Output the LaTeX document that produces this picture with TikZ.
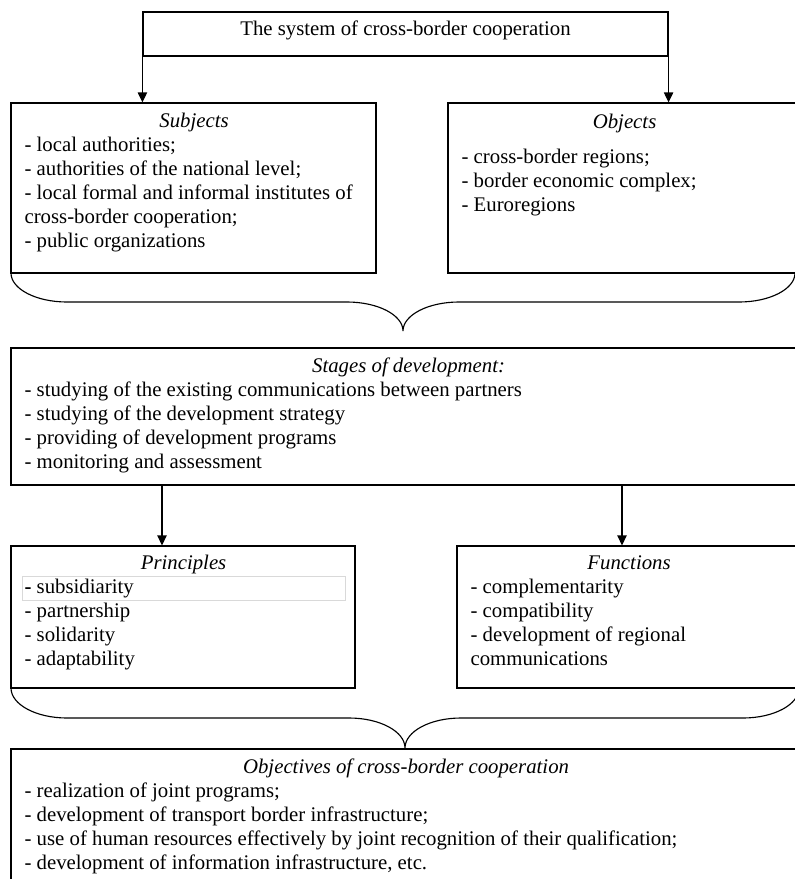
\documentclass[tikz,border=0pt]{standalone}
\usepackage{fontspec}
\setmainfont{Liberation Serif}
\usetikzlibrary{arrows.meta,fit}
\newcommand\boxtitle[1]{{\centering\itshape\strut #1\par}}

\begin{document}
\begin{tikzpicture}[x=0.75pt,y=-0.75pt,line width=0.85pt,>={Triangle[length=7.5pt,width=7pt]},
    panel/.style={draw,inner sep=0pt},
    list/.style={anchor=base west,inner sep=0pt,align=flush left,font=\fontsize{15.6pt}{18pt}\selectfont}]
  \useasboundingbox (0,0) rectangle (794,879);

  % The boxes
  \node [panel,fit={(143,12) (668,56)}] (sys) {};
  \node [panel,fit={(11,103) (376,273)}] (subj) {};
  \node [panel,fit={(448,103) (800,273)}] (obj) {};
  \node [panel,fit={(11,348) (805,485)}] (stages) {};
  \node [panel,fit={(11,546) (355,688)}] (prin) {};
  \node [panel,fit={(457,546) (800,688)}] (func) {};
  \node [panel,fit={(11,749) (800,910)}] (goals) {};
  \node [draw=black!15,line width=0.6pt,inner sep=0pt,fit={(22,576) (345,600)}] (subsid) {};

  % Texts in the boxes
  \node [list,anchor=base] (systxt) at (405.5,35.6) {The system of cross-border cooperation};
  \node [list,text width=254.25pt] (subjtxt) at (24,127.6) {\boxtitle{Subjects}- local authorities;\\
    - authorities of the national level;\\
    - local formal and informal institutes of\\
    cross-border cooperation;\\
    - public organizations};
  \node [list,text width=244.5pt] (objtxt) at (461,128.6) {\boxtitle{Objects}\vspace{8.25pt}- cross-border regions;\\
    - border economic complex;\\
    - Euroregions};
  \node [list,text width=576pt] (stagestxt) at (24,372.6) {\boxtitle{Stages of development:}- studying of the existing communications between partners\\
    - studying of the development strategy\\
    - providing of development programs\\
    - monitoring and assessment};
  \node [list,text width=238.5pt] (printxt) at (24,569.6) {\boxtitle{Principles}\textbf{-} subsidiarity\\
    - partnership\\
    - solidarity\\
    - adaptability};
  \node [list,text width=237.75pt] (functxt) at (470,569.6) {\boxtitle{Functions}- complementarity\\
    - compatibility\\
    - development of regional\\
    communications};
  \node [list,text width=572.25pt] (goalstxt) at (24,773.6) {\boxtitle{Objectives of cross-border cooperation}- realization of joint programs;\\
    - development of transport border infrastructure;\\
    - use of human resources effectively by joint recognition of their qualification;\\
    - development of information infrastructure, etc.};

  % Arrows
  \coordinate (pa) at (162,0);
  \coordinate (fa) at (622,0);
  \draw [->] (sys.south west) -- (sys.south west |- subj.north);
  \draw [->] (sys.south east) -- (sys.south east |- obj.north);
  \draw [->] (pa |- stages.south) -- (pa |- prin.north);
  \draw [->] (fa |- stages.south) -- (fa |- func.north);

  % The two braces
  \foreach \ya/\xl/\xr/\d in {273/11/795/29, 688/11/799/30} {
    \pgfmathsetmacro\xm{(\xl+\xr)/2}
    \draw (\xl,\ya) .. controls (\xl,\ya+0.55*\d) and (\xl+25,\ya+\d) .. (\xl+56,\ya+\d)
      -- (\xm-56,\ya+\d) .. controls (\xm-25,\ya+\d) and (\xm,\ya+1.45*\d) .. (\xm,\ya+2*\d)
      .. controls (\xm,\ya+1.45*\d) and (\xm+25,\ya+\d) .. (\xm+56,\ya+\d)
      -- (\xr-56,\ya+\d) .. controls (\xr-25,\ya+\d) and (\xr,\ya+0.55*\d) .. (\xr,\ya);
  }
\end{tikzpicture}
\end{document}
